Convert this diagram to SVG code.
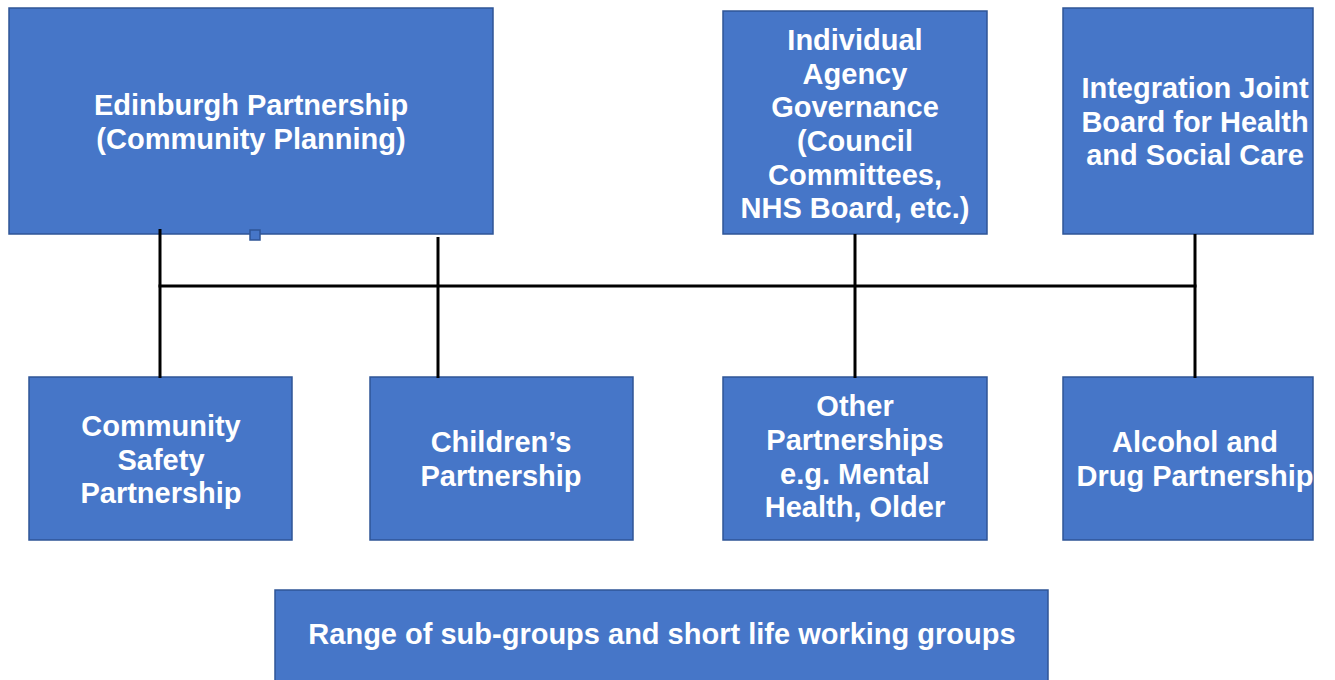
<svg xmlns="http://www.w3.org/2000/svg" width="1335" height="680" viewBox="0 0 1335 680">
<style>
.box{fill:#4676C8;stroke:#2F5597;stroke-width:1.5}
.t{font-family:"Liberation Sans",Arial,sans-serif;font-weight:bold;font-size:29px;fill:#ffffff;text-anchor:middle}
.c{stroke:#000;stroke-width:3;fill:none}
</style>
<rect width="1335" height="680" fill="#ffffff"/>
<g id="edinburgh">
<rect class="box" x="9" y="8" width="484" height="226"/>
<text class="t" x="251" y="115">Edinburgh Partnership</text>
<text class="t" x="251" y="148.5">(Community Planning)</text>
</g>
<g id="individual">
<rect class="box" x="723" y="11" width="264" height="223"/>
<text class="t" x="855" y="50">Individual</text>
<text class="t" x="855" y="83.5">Agency</text>
<text class="t" x="855" y="117">Governance</text>
<text class="t" x="855" y="151">(Council</text>
<text class="t" x="855" y="184.5">Committees,</text>
<text class="t" x="855" y="218">NHS Board, etc.)</text>
</g>
<g id="integration">
<rect class="box" x="1063" y="8" width="250" height="226"/>
<text class="t" x="1195" y="98">Integration Joint</text>
<text class="t" x="1195" y="132">Board for Health</text>
<text class="t" x="1195" y="165">and Social Care</text>
</g>
<g id="community-safety">
<rect class="box" x="29" y="377" width="263" height="163"/>
<text class="t" x="161" y="436">Community</text>
<text class="t" x="161" y="470">Safety</text>
<text class="t" x="161" y="503">Partnership</text>
</g>
<g id="childrens">
<rect class="box" x="370" y="377" width="263" height="163"/>
<text class="t" x="501" y="452">Children’s</text>
<text class="t" x="501" y="486">Partnership</text>
</g>
<g id="other">
<rect class="box" x="723" y="377" width="264" height="163"/>
<text class="t" x="855" y="416">Other</text>
<text class="t" x="855" y="450">Partnerships</text>
<text class="t" x="855" y="484">e.g. Mental</text>
<text class="t" x="855" y="517">Health, Older</text>
</g>
<g id="alcohol">
<rect class="box" x="1063" y="377" width="250" height="163"/>
<text class="t" x="1195" y="452">Alcohol and</text>
<text class="t" x="1195" y="486">Drug Partnership</text>
</g>
<g id="range">
<rect class="box" x="275" y="590" width="773" height="100"/>
<text class="t" x="662" y="644">Range of sub-groups and short life working groups</text>
</g>
<g id="connectors">
<line class="c" x1="160" y1="229" x2="160" y2="378"/>
<line class="c" x1="438" y1="237" x2="438" y2="378"/>
<line class="c" x1="855" y1="234" x2="855" y2="378"/>
<line class="c" x1="1195" y1="234" x2="1195" y2="378"/>
<line class="c" x1="158.5" y1="286" x2="1196.5" y2="286"/>
</g>
<rect class="box" x="250" y="230" width="10" height="10"/>
</svg>
